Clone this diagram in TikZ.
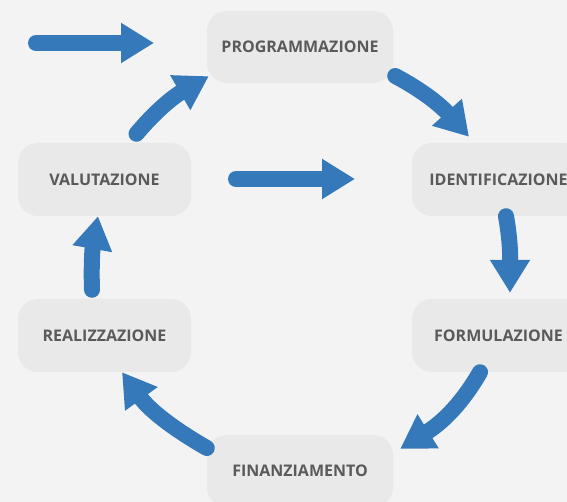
\documentclass[tikz,border=0pt]{standalone}
\usepackage{fontspec}
\setmainfont{Open Sans}
\usetikzlibrary{arrows.meta}
\definecolor{sfondo}{HTML}{F3F3F3}
\definecolor{casella}{HTML}{E9E9E9}
\definecolor{testo}{HTML}{5A5A5A}
\definecolor{blu}{HTML}{3679BA}
\begin{document}
\begin{tikzpicture}[
        x=1pt, y=1pt,
        fase/.style={shape=rectangle, rounded corners=20pt, fill=casella, text=testo,
            font=\bfseries\fontsize{16}{18}\selectfont, minimum width=173pt, minimum height=73pt},
        fasel/.style={fase, minimum width=186pt, minimum height=72pt},
        freccia/.style={draw=blu, line width=16pt, line cap=round,
            -{Triangle[length=33pt, width=38pt]}},
    ]
    \useasboundingbox (0, 0) rectangle (567, 502);
    \clip (0, 0) rectangle (567, 502);
    \fill[sfondo] (0, 0) rectangle (567, 502);

    \node[fasel] (prog) at (300, 455) {PROGRAMMAZIONE};
    \node[fase] (ident) at (498.5, 322.5) {IDENTIFICAZIONE};
    \node[fase] (form) at (498.5, 166.5) {FORMULAZIONE};
    \node[fasel] (fin) at (300, 31) {FINANZIAMENTO};
    \node[fase] (real) at (104.5, 166.5) {REALIZZAZIONE};
    \node[fase] (val) at (104.5, 322.5) {VALUTAZIONE};

    \coordinate (ingresso) at (36, 459);
    \coordinate (ingressofine) at (154, 459);
    \coordinate (centro) at (236, 323);
    \coordinate (centrofine) at (355, 323);

    \draw[freccia] (ingresso) -- (ingressofine);
    \draw[freccia] (centro) -- (centrofine);
    \draw[freccia] ([xshift=32pt, yshift=9pt]val.north) to[out=50, in=210] ([xshift=2pt, yshift=7pt]prog.south west);
    \draw[freccia] ([xshift=2pt, yshift=-29pt]prog.east) to[out=-28, in=132] ([xshift=-29.5pt, yshift=6pt]ident.north);
    \draw[freccia] ([xshift=7.5pt]ident.south) to[out=-80, in=90] ([xshift=11.5pt, yshift=6pt]form.north);
    \draw[freccia] ([xshift=-18.5pt]form.south) to[out=240, in=32] ([xshift=7pt, yshift=-14pt]fin.north east);
    \draw[freccia] ([yshift=23pt]fin.west) to[out=150, in=-54] ([xshift=17.5pt]real.south);
    \draw[freccia] ([xshift=-12.5pt, yshift=9pt]real.north) to[out=92, in=-100] ([xshift=-6.5pt]val.south);

\end{tikzpicture}
\end{document}
